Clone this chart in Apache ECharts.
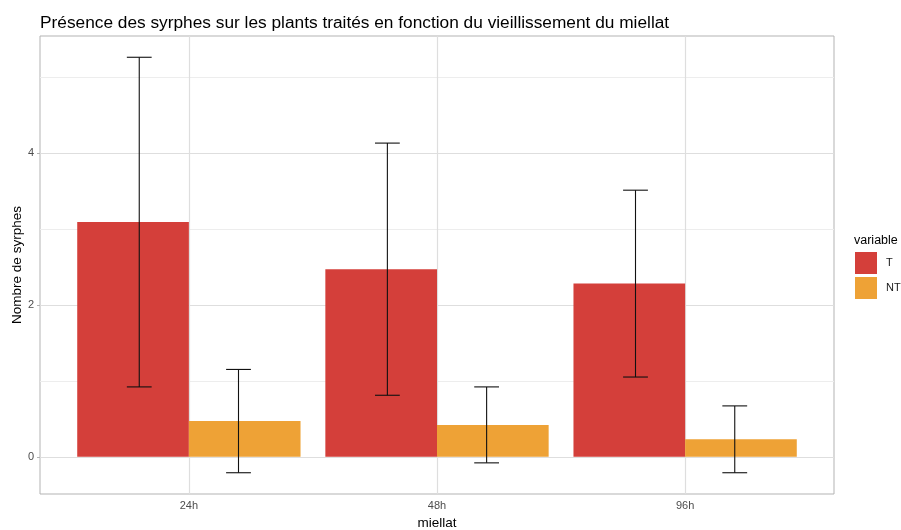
<!DOCTYPE html>
<html>
<head>
<meta charset="utf-8">
<script src="https://cdn.jsdelivr.net/npm/echarts@6/dist/echarts.min.js"></script>
<style>
  html, body { margin: 0; padding: 0; background: #ffffff; }
  #chart { width: 901px; height: 530px; }
</style>
</head>
<body>
<div id="chart"></div>
<script>
// Mean number of hoverflies per plant, with standard deviation, by honeydew age
const categories = ['24h', '48h', '96h'];
const variables = ['T', 'NT'];
const meanT = [3.09, 2.47, 2.28];
const sdT = [2.17, 1.66, 1.23];
const meanNT = [0.47, 0.42, 0.23];
const sdNT = [0.68, 0.50, 0.44];
const yMajorTicks = [0, 2, 4];
const yMinorTicks = [1, 3, 5];

const FONT = '"Liberation Sans", Arial, Helvetica, sans-serif';
const COLORS = { T: '#D43F3A', NT: '#EEA236' };
const BAR_W = 0.45;   // width of one bar, in category units
const ERR_OFF = 0.2;  // horizontal dodge of the error bars
const CAP_W = 0.1;    // width of the error bar caps

function groupSeries(name, means, sds, side) {
  return {
    type: 'custom',
    name: name,
    z: 3,
    itemStyle: { color: COLORS[name] },
    encode: { x: 0, y: 1 },
    data: means.map((m, i) => [i + 1, m, sds[i]]),
    renderItem: function (params, api) {
      const x = api.value(0), m = api.value(1), s = api.value(2);
      const bx0 = side < 0 ? x - BAR_W : x;
      const pA = api.coord([bx0, m]);
      const pB = api.coord([bx0 + BAR_W, 0]);
      const ex = x + side * ERR_OFF;
      const top = api.coord([ex, m + s]);
      const bot = api.coord([ex, m - s]);
      const cl = api.coord([ex - CAP_W / 2, 0])[0];
      const cr = api.coord([ex + CAP_W / 2, 0])[0];
      const lineStyle = { stroke: '#111111', lineWidth: 1.1 };
      return {
        type: 'group',
        children: [
          {
            type: 'rect',
            shape: { x: pA[0], y: pA[1], width: pB[0] - pA[0], height: pB[1] - pA[1] },
            style: { fill: COLORS[name] }
          },
          { type: 'line', shape: { x1: top[0], y1: top[1], x2: bot[0], y2: bot[1] }, style: lineStyle, z2: 5 },
          { type: 'line', shape: { x1: cl, y1: top[1], x2: cr, y2: top[1] }, style: lineStyle, z2: 5 },
          { type: 'line', shape: { x1: cl, y1: bot[1], x2: cr, y2: bot[1] }, style: lineStyle, z2: 5 }
        ]
      };
    }
  };
}

// Panel grid lines, drawn underneath the bars
const gridLineSeries = {
  type: 'line',
  name: 'grid',
  data: [],
  z: 1,
  silent: true,
  markLine: {
    z: 1,
    silent: true,
    symbol: 'none',
    animation: false,
    label: { show: false },
    emphasis: { disabled: true },
    data: [
      ...yMinorTicks.map(v => ({ yAxis: v, lineStyle: { color: '#EDEDED', width: 1, type: 'solid' } })),
      ...yMajorTicks.map(v => ({ yAxis: v, lineStyle: { color: '#DEDEDE', width: 1.2, type: 'solid' } })),
      ...categories.map((c, i) => ({ xAxis: i + 1, lineStyle: { color: '#DEDEDE', width: 1.2, type: 'solid' } }))
    ]
  }
};

const chart = echarts.init(document.getElementById('chart'), null, { renderer: 'canvas' });
chart.setOption({
  animation: false,
  backgroundColor: '#ffffff',
  textStyle: { fontFamily: FONT },
  title: {
    text: 'Présence des syrphes sur les plants traités en fonction du vieillissement du miellat',
    left: 40,
    top: 14.5,
    padding: 0,
    textStyle: { fontFamily: FONT, fontSize: 17.3, fontWeight: 'normal', color: '#000000' }
  },
  grid: {
    left: 40, top: 36, width: 794, height: 458,
    show: true, borderColor: '#B3B3B3', borderWidth: 1, backgroundColor: 'transparent',
    containLabel: false,
    outerBoundsMode: 'none'
  },
  legend: {
    orient: 'vertical',
    left: 855, top: 252,
    padding: 0,
    itemWidth: 22, itemHeight: 22, itemGap: 3,
    icon: 'rect',
    data: variables,
    selectedMode: false,
    textStyle: { fontFamily: FONT, fontSize: 11, color: '#1A1A1A', padding: [0, 0, 0, 4] }
  },
  graphic: [{
    type: 'text',
    left: 854, top: 234,
    style: { text: 'variable', fontFamily: FONT, fontSize: 12.5, fill: '#000000' }
  }],
  xAxis: {
    type: 'value',
    min: 0.4, max: 3.6,
    name: 'miellat',
    nameLocation: 'middle',
    nameGap: 22,
    nameMoveOverlap: false,
    nameTextStyle: { fontFamily: FONT, fontSize: 13.5, color: '#000000' },
    axisLine: { show: false },
    axisTick: { show: true, customValues: [1, 2, 3], length: 3, lineStyle: { color: '#B3B3B3', width: 1 } },
    axisLabel: {
      customValues: [1, 2, 3], margin: 6,
      formatter: v => categories[Math.round(v) - 1] || '',
      fontFamily: FONT, fontSize: 11, color: '#4D4D4D'
    },
    splitLine: { show: false }
  },
  yAxis: {
    type: 'value',
    min: -0.49, max: 5.54,
    name: 'Nombre de syrphes',
    nameLocation: 'middle',
    nameGap: 16,
    nameRotate: 90,
    nameMoveOverlap: false,
    nameTextStyle: { fontFamily: FONT, fontSize: 13.5, color: '#000000' },
    axisLine: { show: false },
    axisTick: { show: true, customValues: yMajorTicks, length: 3, lineStyle: { color: '#B3B3B3', width: 1 } },
    axisLabel: {
      customValues: yMajorTicks, margin: 6,
      fontFamily: FONT, fontSize: 11, color: '#4D4D4D'
    },
    splitLine: { show: false }
  },
  series: [
    gridLineSeries,
    groupSeries('T', meanT, sdT, -1),
    groupSeries('NT', meanNT, sdNT, 1)
  ]
});
</script>
</body>
</html>
